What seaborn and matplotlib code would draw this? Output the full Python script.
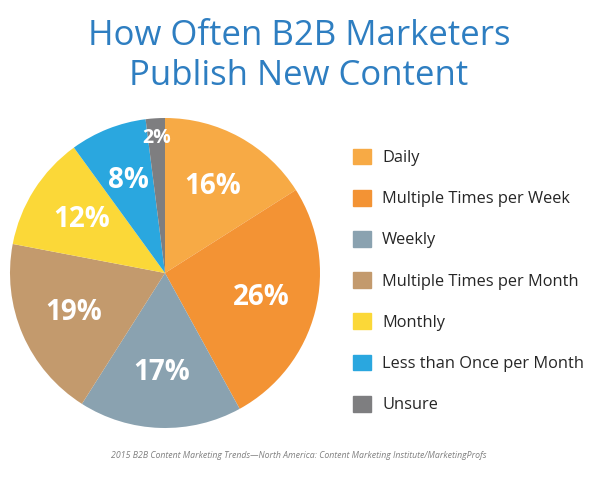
import matplotlib
matplotlib.use("Agg")
import matplotlib.pyplot as plt
import seaborn as sns
import numpy as np

sns.set_theme(style="white")
plt.rcParams['font.family'] = ['Open Sans', 'DejaVu Sans']

categories = ["Daily", "Multiple Times per Week", "Weekly", "Multiple Times per Month",
              "Monthly", "Less than Once per Month", "Unsure"]
values = [16, 26, 17, 19, 12, 8, 2]
colors = ["#F7AA45", "#F39334", "#8AA2B0", "#C39A6D", "#FBD838", "#2AA7DF", "#7E7E80"]

fig = plt.figure(figsize=(5.98, 4.78), dpi=100)
ax = fig.add_axes([10 / 598, (478 - 428) / 478, 310 / 598, 310 / 478])
wedges, texts, autotexts = ax.pie(values, colors=colors, startangle=90, counterclock=False,
                                  autopct=lambda p: f"{p:.0f}%", pctdistance=0.64,
                                  wedgeprops=dict(linewidth=0),
                                  textprops=dict(color="white", fontsize=20, fontweight="bold"))
w = wedges[-1]
th = np.deg2rad((w.theta1 + w.theta2) / 2)
autotexts[-1].set_position((0.87 * np.cos(th), 0.87 * np.sin(th)))
autotexts[-1].set_fontsize(14)
ax.set_xlim(-1, 1)
ax.set_ylim(-1, 1)
ax.set_aspect("equal")

fig.text(0.5, 0.925, "How Often B2B Marketers", ha="center", va="center", fontsize=25, color="#2E7EC1")
fig.text(0.5, 0.84, "Publish New Content", ha="center", va="center", fontsize=25, color="#2E7EC1")

handles = [plt.Rectangle((0, 0), 1, 1, color=c) for c in colors]
fig.legend(handles, categories, loc="upper left", bbox_to_anchor=(0.565, 0.72),
           frameon=False, fontsize=11.8, labelspacing=1.45, handlelength=1.1, handleheight=1.1,
           handletextpad=0.7)

fig.text(0.5, 0.048, "2015 B2B Content Marketing Trends\u2014North America: Content Marketing Institute/MarketingProfs",
         ha="center", va="center", fontsize=6.3, style="italic", color="#808080")
fig.savefig("out.png", dpi=100)
